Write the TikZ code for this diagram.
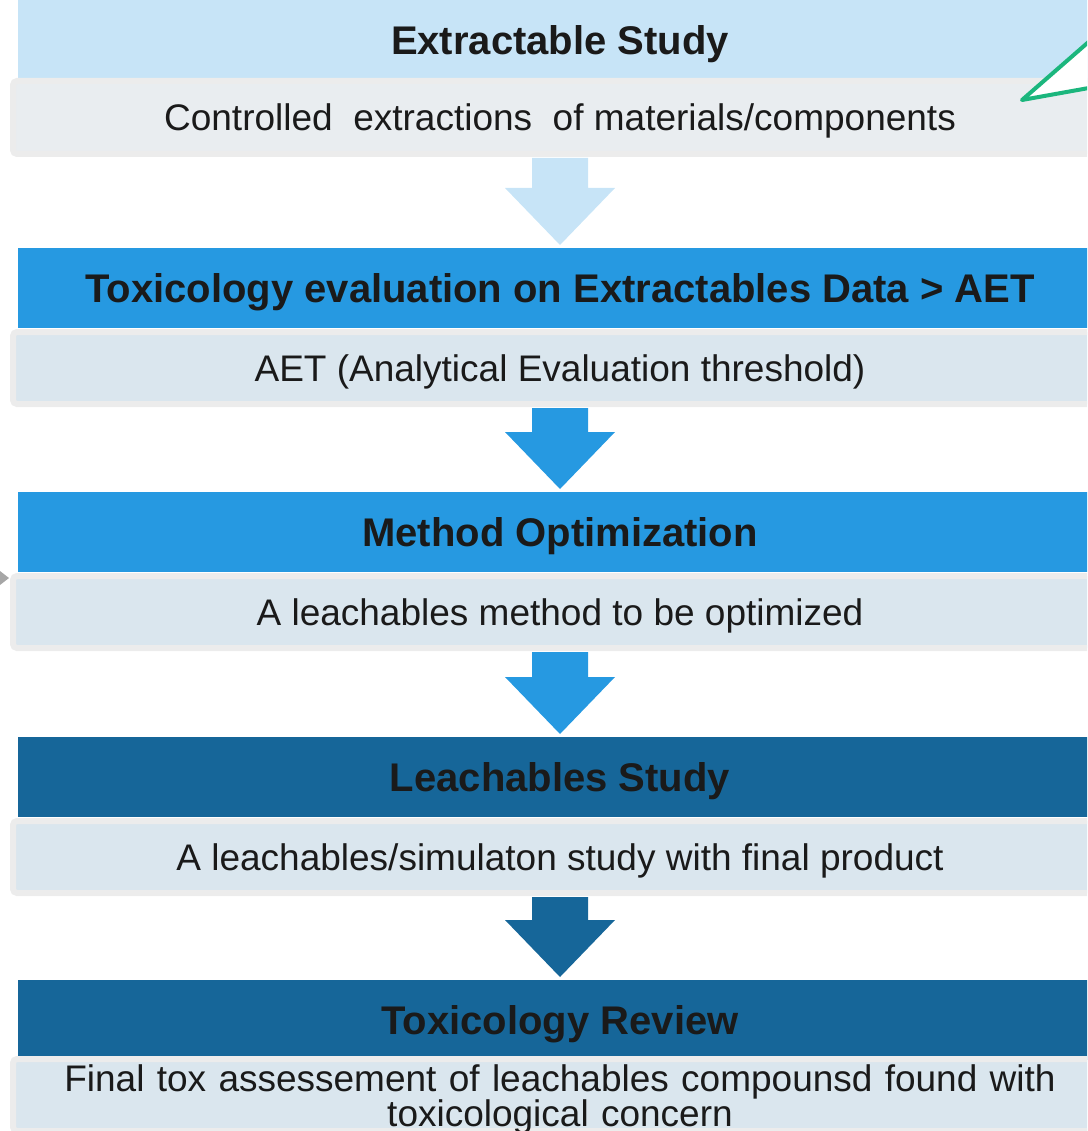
\documentclass[tikz,border=0pt]{standalone}
\usepackage{fontspec}
\setmainfont{Liberation Sans}
\usetikzlibrary{positioning,calc}

\definecolor{paleblue}{HTML}{C7E4F7}
\definecolor{midblue}{HTML}{2699E1}
\definecolor{deepblue}{HTML}{166699}
\definecolor{bodygray}{HTML}{E9EDF0}
\definecolor{bodyblue}{HTML}{DAE6EE}
\definecolor{framegray}{HTML}{ECECEC}
\definecolor{calloutgreen}{HTML}{1BB67D}
\definecolor{inktext}{HTML}{1A1A1A}

% fat block arrow from a body box down to the next header
\newcommand{\flowarrow}[3]{
	\fill[#3] ($(#1.south)+(-28,4)$) -- ($(#1.south)+(28,4)$)
		-- ($(#2.north)+(28,-60)$) -- ($(#2.north)+(55,-60)$)
		-- ($(#2.north)+(0,-3)$)
		-- ($(#2.north)+(-55,-60)$) -- ($(#2.north)+(-28,-60)$) -- cycle;
}

\begin{document}
\begin{tikzpicture}[
		x=1pt, y=-1pt
		,every node/.append style={outer sep=0pt, inner sep=0pt, text=inktext}
		,head/.style={minimum width=1084pt, minimum height=80pt,
			text height=29pt, text depth=0pt,
			font=\bfseries\fontsize{40}{44}\selectfont}
		,body/.style={minimum width=1094pt, minimum height=72pt,
			draw=framegray, line width=6pt, rounded corners=4pt, fill=bodyblue,
			text height=27pt, text depth=0pt,
			font=\fontsize{37}{35}\selectfont}
	]
	\useasboundingbox (0,0) rectangle (1087,1131);
	\clip (0,0) rectangle (1087,1131);

	\node [head, fill=paleblue, minimum height=84pt] (h1) at (560,40) {Extractable Study};
	\node [body, fill=bodygray, minimum height=73pt, below=-1pt of h1] (b1)
		{Controlled\ \ extractions\ \ of materials/components};

	\node [head, fill=midblue, below=94pt of b1] (h2)
		{Toxicology evaluation on Extractables Data > AET};
	\node [body, below=4pt of h2] (b2) {AET (Analytical Evaluation threshold)};

	\node [head, fill=midblue, below=88pt of b2] (h3) {Method Optimization};
	\node [body, below=4pt of h3] (b3) {A leachables method to be optimized};

	\node [head, fill=deepblue, below=89pt of b3] (h4) {Leachables Study};
	\node [body, below=4pt of h4] (b4) {A leachables/simulaton study with final product};

	\node [head, fill=deepblue, below=87pt of b4] (h5) {Toxicology Review};
	\node [body, below=-1pt of h5, text width=1060pt, align=center,
		text depth=35pt] (b5)
		{Final tox assessement of leachables compounsd found with\\toxicological concern};

	\flowarrow{b1}{h2}{paleblue}
	\flowarrow{b2}{h3}{midblue}
	\flowarrow{b3}{h4}{midblue}
	\flowarrow{b4}{h5}{deepblue}

	% callout tip and side marker
	\filldraw [draw=calloutgreen, fill=white, line width=4pt, line join=round]
		(1022,100) -- (1100,32) -- (1100,86) -- cycle;
	\fill [black!35] (0,571) -- (9,578) -- (0,585) -- cycle;
\end{tikzpicture}
\end{document}
